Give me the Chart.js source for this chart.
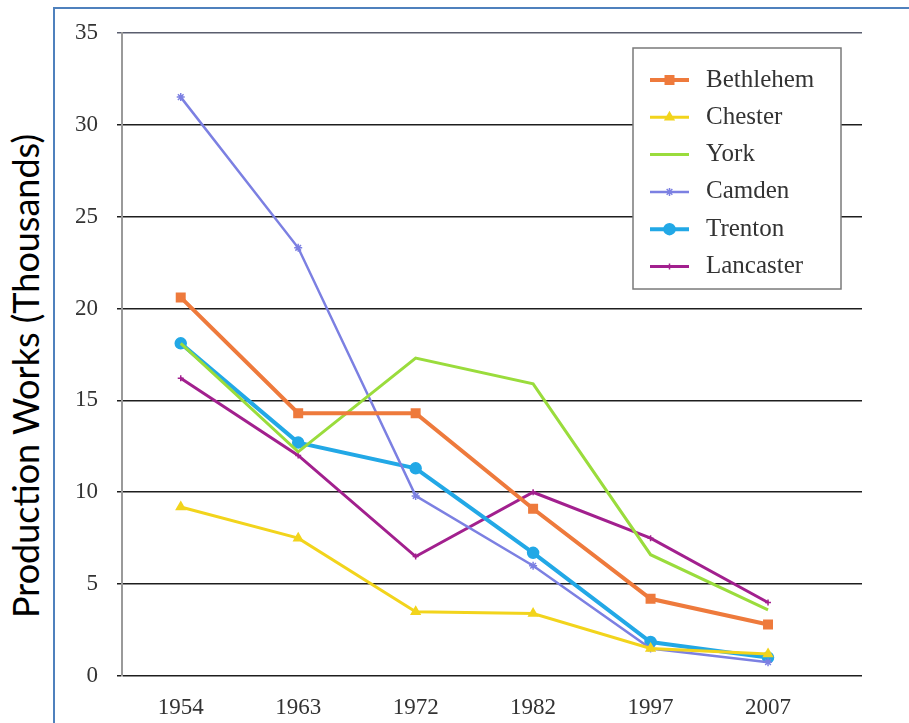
<!DOCTYPE html>
<html>
<head>
<meta charset="utf-8">
<script src="https://cdn.jsdelivr.net/npm/chart.js@4/dist/chart.umd.min.js"></script>
<style>
  html, body { margin: 0; padding: 0; background: #ffffff; overflow: hidden; }
  #wrap { position: relative; width: 909px; height: 723px; }
  #frame { position: absolute; left: 53px; top: 7px; width: 900px; height: 760px;
           border-left: 2.5px solid #4F81BD; border-top: 2.5px solid #4F81BD; box-sizing: border-box; }
  #ytitle { position: absolute; left: 25px; top: 376px; transform: translate(-50%, -50%) rotate(-90deg);
            white-space: nowrap; font-family: Lato, "Open Sans", sans-serif; font-size: 36px; color: #000; }
  canvas { position: absolute; left: 0; top: 0; }
</style>
</head>
<body>
<div id="wrap">
  <div id="frame"></div>
  <div id="ytitle">Production Works (Thousands)</div>
  <canvas id="c" width="909" height="723"></canvas>
</div>
<script>
const categories = ['1954', '1963', '1972', '1982', '1997', '2007'];
const seriesNames = ['Bethlehem', 'Chester', 'York', 'Camden', 'Trenton', 'Lancaster'];
const bethlehem = [20.6, 14.3, 14.3, 9.1, 4.2, 2.8];
const chester   = [9.2, 7.5, 3.5, 3.4, 1.5, 1.2];
const york      = [18.1, 12.2, 17.3, 15.9, 6.6, 3.6];
const camden    = [31.5, 23.3, 9.8, 6.0, 1.5, 0.75];
const trenton   = [18.1, 12.7, 11.3, 6.7, 1.85, 1.0];
const lancaster = [16.2, 12.0, 6.5, 10.0, 7.5, 4.0];
const yTicks = [0, 5, 10, 15, 20, 25, 30, 35];

const seriesValues = [bethlehem, chester, york, camden, trenton, lancaster];
const colors = ['#EE7A3C', '#F2D41C', '#9ADC3C', '#7C80E2', '#22A8E6', '#A2208E'];
const styles = ['rect', 'triangle', false, 'star', 'circle', 'cross'];
const radii = [6, 5, 0, 4, 5.5, 3];
const widths = [4, 3, 3, 2.5, 4, 3];

const toPoints = vals => vals.map((v, i) => ({ x: i, y: v }));

const datasets = seriesNames.map((name, k) => ({
  label: name,
  data: toPoints(seriesValues[k]),
  borderColor: colors[k],
  backgroundColor: colors[k],
  borderWidth: widths[k],
  pointStyle: styles[k],
  pointRadius: radii[k],
  pointBorderWidth: 1.5,
  pointBorderColor: colors[k],
  pointBackgroundColor: colors[k],
  tension: 0,
  fill: false
}));

const legendPlugin = {
  id: 'boxLegend',
  afterDraw(chart) {
    const ctx = chart.ctx;
    const x0 = 633, y0 = 48, w = 208, h = 241;
    ctx.save();
    ctx.fillStyle = '#ffffff';
    ctx.fillRect(x0, y0, w, h);
    ctx.strokeStyle = '#7a7a7a';
    ctx.lineWidth = 1.5;
    ctx.strokeRect(x0, y0, w, h);
    chart.data.datasets.forEach((ds, i) => {
      const cy = 80 + i * 37.3;
      ctx.strokeStyle = ds.borderColor;
      ctx.lineWidth = ds.borderWidth;
      ctx.beginPath();
      ctx.moveTo(650, cy);
      ctx.lineTo(689, cy);
      ctx.stroke();
      if (ds.pointStyle && Chart.helpers && Chart.helpers.drawPoint) {
        ctx.fillStyle = ds.backgroundColor;
        ctx.strokeStyle = ds.borderColor;
        ctx.lineWidth = 1.5;
        Chart.helpers.drawPoint(ctx, { pointStyle: ds.pointStyle, radius: ds.pointRadius, rotation: 0, borderWidth: 1.5 }, 669.5, cy);
      }
      ctx.fillStyle = '#333333';
      ctx.font = '25px "Liberation Serif", "DejaVu Serif", serif';
      ctx.textBaseline = 'middle';
      ctx.textAlign = 'left';
      ctx.fillText(ds.label, 706, cy);
    });
    ctx.restore();
  }
};

new Chart(document.getElementById('c'), {
  type: 'line',
  data: { datasets },
  options: {
    responsive: false,
    animation: false,
    devicePixelRatio: 1,
    layout: { padding: { top: 31, right: 47, bottom: 0, left: 0 } },
    plugins: { legend: { display: false }, tooltip: { enabled: false } },
    scales: {
      x: {
        type: 'linear',
        min: -0.5,
        max: 5.8,
        afterBuildTicks: s => { s.ticks = categories.map((c, i) => ({ value: i })); },
        afterFit: s => { s.height = 47; },
        grid: { display: false, drawTicks: false },
        border: { display: false },
        ticks: {
          callback: v => categories[v] !== undefined ? categories[v] : '',
          padding: 18,
          maxRotation: 0,
          autoSkip: false,
          color: '#333333',
          font: { family: '"Liberation Serif", "DejaVu Serif", serif', size: 23 }
        }
      },
      y: {
        min: 0,
        max: 35,
        afterBuildTicks: s => { s.ticks = yTicks.map(v => ({ value: v })); },
        afterFit: s => { s.width = 122; },
        grid: {
          color: ctx => (ctx.tick && ctx.tick.value === 35) ? '#5a5e6e' : '#1e1e1e',
          lineWidth: 1.5,
          tickLength: 5
        },
        border: { display: true, color: '#9a9a9a', width: 2 },
        ticks: {
          padding: 19,
          color: '#333333',
          font: { family: '"Liberation Serif", "DejaVu Serif", serif', size: 23 }
        }
      }
    }
  },
  plugins: [legendPlugin]
});
</script>
</body>
</html>
